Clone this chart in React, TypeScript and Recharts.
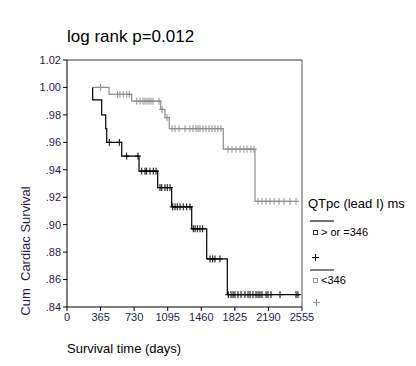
import {
  ComposedChart,
  Line,
  Scatter,
  XAxis,
  YAxis,
  ReferenceLine,
} from 'recharts';

// step curves: time (days) where survival drops, and survival after the drop
const highTimes = [279, 279, 377, 421, 432, 595, 783, 986, 1138, 1356, 1519, 1743, 2533];
const highSurv = [1.0, 0.991, 0.98, 0.97, 0.96, 0.95, 0.939, 0.927, 0.913, 0.897, 0.875, 0.849, 0.849];
const lowTimes = [279, 457, 703, 1019, 1065, 1112, 1699, 2044, 2497];
const lowSurv = [1.0, 0.995, 0.99, 0.984, 0.978, 0.97, 0.955, 0.917, 0.917];

// censored cases (days)
const highCensor = [
  460, 569, 649, 772, 812, 848, 866, 902, 938, 968, 1011, 1030, 1065, 1090, 1120,
  1149, 1174, 1199, 1229, 1264, 1301, 1337, 1373, 1392, 1417, 1446, 1475,
  1555, 1584, 1609, 1663, 1754, 1783, 1805, 1826, 1859, 1892, 1935, 1968, 1990,
  2022, 2055, 2077, 2098, 2120, 2164, 2185, 2218, 2316, 2490, 2511,
];
const lowCensor = [
  366, 551, 576, 612, 649, 677, 758, 794, 826, 848, 870, 892, 913, 935, 1000,
  1033, 1087, 1142, 1174, 1218, 1283, 1337, 1370, 1403, 1424, 1446, 1479, 1511,
  1544, 1576, 1609, 1642, 1674, 1750, 1794, 1837, 1881, 1924, 1957, 2000, 2033,
  2077, 2120, 2164, 2207, 2251, 2305, 2359, 2425, 2490,
];

const xTicks = [0, 365, 730, 1095, 1460, 1825, 2190, 2555];
const yTicks = [0.84, 0.86, 0.88, 0.9, 0.92, 0.94, 0.96, 0.98, 1.0, 1.02];

const toPoints = (times: number[], surv: number[]) =>
  times.map((t, i) => ({ t, s: surv[i] }));

// survival of the curve at time t (value of the step at that point)
function survAt(times: number[], surv: number[], t: number) {
  let s = surv[0];
  for (let i = 0; i < times.length; i++) {
    if (times[i] <= t) s = surv[i];
  }
  return s;
}

const highLine = toPoints(highTimes, highSurv);
const lowLine = toPoints(lowTimes, lowSurv);
const highMarks = highCensor.map((t) => ({ t, s: survAt(highTimes, highSurv, t) }));
const lowMarks = lowCensor.map((t) => ({ t, s: survAt(lowTimes, lowSurv, t) }));

const FONT = '"Liberation Sans", Arial, sans-serif';
const BLACK = '#000000';
const GREY = '#8f8f8f';
const TEXT = '#1c1c4a';

function plusShape(color: string) {
  return (props: any) => {
    const { cx, cy } = props;
    return (
      <g stroke={color} strokeWidth={1}>
        <line x1={cx} y1={cy - 3.5} x2={cx} y2={cy + 3.5} />
        <line x1={cx - 3} y1={cy} x2={cx + 3} y2={cy} />
      </g>
    );
  };
}

const fmtY = (v: number) => (v >= 1 ? v.toFixed(2) : v.toFixed(2).slice(1));

export default function App() {
  return (
    <div style={{ position: 'absolute', left: 0, top: 0, width: 416, height: 366, background: '#fff', fontFamily: FONT }}>
      <ComposedChart
        width={416}
        height={366}
        margin={{ top: 60, right: 114, bottom: 34, left: 27 }}
      >
        <XAxis
          type="number"
          dataKey="t"
          domain={[0, 2555]}
          ticks={xTicks}
          interval={0}
          allowDataOverflow
          height={25}
          tick={{ fill: TEXT, fontSize: 11, fontFamily: FONT }}
          axisLine={{ stroke: BLACK }}
          tickLine={{ stroke: BLACK }}
          tickSize={4}
        />
        <YAxis
          type="number"
          dataKey="s"
          domain={[0.84, 1.02]}
          ticks={yTicks}
          interval={0}
          allowDataOverflow
          width={40}
          tickFormatter={fmtY}
          tick={{ fill: TEXT, fontSize: 11, fontFamily: FONT }}
          axisLine={{ stroke: BLACK }}
          tickLine={{ stroke: BLACK }}
          tickSize={4}
        />
        <ReferenceLine y={1.02} stroke="#333" />
        <ReferenceLine x={2555} stroke="#555" />
        <Line
          data={lowLine}
          dataKey="s"
          type="stepAfter"
          stroke={GREY}
          strokeWidth={1.2}
          dot={false}
          isAnimationActive={false}
        />
        <Line
          data={highLine}
          dataKey="s"
          type="stepAfter"
          stroke={BLACK}
          strokeWidth={1.2}
          dot={false}
          isAnimationActive={false}
        />
        <Scatter data={lowMarks} dataKey="s" shape={plusShape(GREY)} isAnimationActive={false} />
        <Scatter data={highMarks} dataKey="s" shape={plusShape(BLACK)} isAnimationActive={false} />
      </ComposedChart>

      <div style={{ position: 'absolute', left: 67, top: 27, fontSize: 17, lineHeight: '20px', color: '#000' }}>
        log rank p=0.012
      </div>
      <div
        style={{
          position: 'absolute',
          left: 25,
          top: 251,
          transform: 'translate(-50%, -50%) rotate(-90deg)',
          fontSize: 13,
          color: TEXT,
          whiteSpace: 'pre',
        }}
      >
        {'Cum  Cardiac Survival'}
      </div>
      <div style={{ position: 'absolute', left: 67, top: 341, fontSize: 13, lineHeight: '16px', color: '#000' }}>
        Survival time (days)
      </div>

      {/* legend */}
      <div style={{ position: 'absolute', left: 308, top: 196, fontSize: 13, lineHeight: '16px', color: '#000', whiteSpace: 'nowrap' }}>
        QTpc (lead I) ms
      </div>
      <div style={{ position: 'absolute', left: 310, top: 220, width: 24, height: 2, background: '#707070' }} />
      <div style={{ position: 'absolute', left: 313, top: 230, width: 3, height: 3, border: '1px solid #333' }} />
      <div style={{ position: 'absolute', left: 321, top: 225, fontSize: 11, lineHeight: '14px', color: '#000' }}>
        {'> or =346'}
      </div>
      <svg style={{ position: 'absolute', left: 310, top: 252 }} width={12} height={12}>
        <line x1={5.5} y1={2} x2={5.5} y2={9} stroke={BLACK} />
        <line x1={2} y1={5.5} x2={9} y2={5.5} stroke={BLACK} />
      </svg>
      <div style={{ position: 'absolute', left: 310, top: 269, width: 24, height: 2, background: '#808080' }} />
      <div style={{ position: 'absolute', left: 313, top: 278, width: 3, height: 3, border: '1px solid #999' }} />
      <div style={{ position: 'absolute', left: 321, top: 273, fontSize: 11, lineHeight: '14px', color: '#000' }}>
        {'<346'}
      </div>
      <svg style={{ position: 'absolute', left: 311, top: 297 }} width={12} height={12}>
        <line x1={5.5} y1={2} x2={5.5} y2={9} stroke={GREY} />
        <line x1={2} y1={5.5} x2={9} y2={5.5} stroke={GREY} />
      </svg>
    </div>
  );
}
